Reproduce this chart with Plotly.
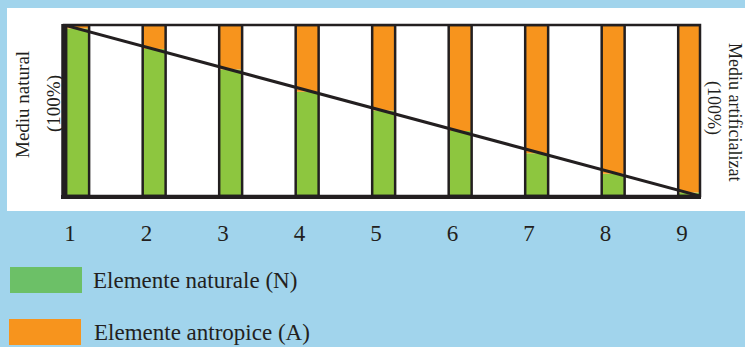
import plotly.graph_objects as go

# ---- data ----
stages = [1, 2, 3, 4, 5, 6, 7, 8, 9]
stage_labels = ["1", "2", "3", "4", "5", "6", "7", "8", "9"]
natural_pct = [98, 86, 74, 61, 50, 38, 25, 13, 2]        # Elemente naturale (N)
anthropic_pct = [2, 14, 26, 39, 50, 62, 75, 87, 98]      # Elemente antropice (A)
trend_share = [100, 0]                                    # from Mediu natural to Mediu artificializat

name_n = "Elemente naturale (N)"
name_a = "Elemente antropice (A)"

# ---- style ----
W, H = 745, 347
ML, MR, MT, MB = 64, 45, 25, 151
X_RANGE = [0.9216, 9.235]
BLUE = "rgb(161,212,236)"
GREEN_BAR = "#8dc63f"
GREEN_LEG = "#6cc067"
ORANGE = "#f7941d"
INK = "#231f20"
FONT = "Liberation Serif"

pw = W - ML - MR
ph = H - MT - MB


def px(p):
    return (p - ML) / pw


def py(y):
    return (H - MB - y) / ph


fig = go.Figure()
bar_kw = dict(width=0.30, offset=-0.05)
fig.add_trace(go.Bar(x=stages, y=natural_pct, name=name_n,
                     marker=dict(color=GREEN_BAR, line=dict(width=0)), **bar_kw))
fig.add_trace(go.Bar(x=stages, y=anthropic_pct, base=natural_pct, name=name_a,
                     marker=dict(color=ORANGE, line=dict(width=0)), **bar_kw))
totals = [n + a for n, a in zip(natural_pct, anthropic_pct)]
fig.add_trace(go.Bar(x=stages, y=totals, name="outline", hoverinfo="skip",
                     marker=dict(color="rgba(0,0,0,0)", line=dict(width=2.5, color=INK)),
                     **bar_kw))
fig.add_trace(go.Scatter(x=X_RANGE, y=trend_share, mode="lines",
                         line=dict(color=INK, width=3), cliponaxis=False,
                         hoverinfo="skip"))

shapes = [
    # white panel
    dict(type="rect", xref="paper", yref="paper", x0=px(7), x1=px(750),
         y0=py(211), y1=py(8), fillcolor="white", line=dict(width=0), layer="below"),
    # frame
    dict(type="rect", xref="paper", yref="paper", x0=0, x1=1, y0=0, y1=1,
         line=dict(color=INK, width=2.5), layer="above"),
    dict(type="line", xref="paper", yref="paper", x0=px(63.5), x1=px(63.5),
         y0=py(198), y1=py(24), line=dict(color=INK, width=4.5), layer="above"),
    dict(type="line", xref="paper", yref="paper", x0=px(61), x1=px(701),
         y0=py(197), y1=py(197), line=dict(color=INK, width=4), layer="above"),
    # legend swatches
    dict(type="rect", xref="paper", yref="paper", x0=px(10), x1=px(82),
         y0=py(293), y1=py(267), fillcolor=GREEN_LEG, line=dict(width=0)),
    dict(type="rect", xref="paper", yref="paper", x0=px(9), x1=px(81),
         y0=py(345), y1=py(319), fillcolor=ORANGE, line=dict(width=0)),
]

ann_font = dict(family=FONT, size=19, color=INK)
right_font = dict(family=FONT, size=18, color=INK)
leg_font = dict(family=FONT, size=23, color=INK)
annotations = [
    dict(text="Mediu natural", x=px(22), y=py(105), textangle=-90, font=ann_font),
    dict(text="(100%)", x=px(54), y=py(104), textangle=-90, font=ann_font),
    dict(text="(100%)", x=px(714), y=py(108), textangle=90, font=right_font),
    dict(text="Mediu artificializat", x=px(735), y=py(112), textangle=90, font=right_font),
    dict(text=name_n, x=px(91), y=py(280), xanchor="left", font=leg_font),
    dict(text=name_a, x=px(92), y=py(332), xanchor="left", font=leg_font),
]
for a in annotations:
    a.update(xref="paper", yref="paper", showarrow=False)
    a.setdefault("xanchor", "center")
    a.setdefault("yanchor", "middle")

fig.update_layout(
    width=W, height=H,
    margin=dict(l=ML, r=MR, t=MT, b=MB, pad=0),
    paper_bgcolor=BLUE, plot_bgcolor="white",
    barmode="overlay", showlegend=False,
    shapes=shapes, annotations=annotations,
    xaxis=dict(range=X_RANGE, tickmode="array", tickvals=stages, ticktext=stage_labels,
               showgrid=False, zeroline=False, showline=False,
               ticks="outside", ticklen=16, tickcolor="rgba(0,0,0,0)",
               tickfont=dict(family=FONT, size=23, color=INK), fixedrange=True),
    yaxis=dict(range=[0, 100], showgrid=False, zeroline=False, showline=False,
               showticklabels=False, ticks="", fixedrange=True),
)

fig.write_html("out.html",
               config={"displayModeBar": False, "staticPlot": True},
               post_script="document.body.style.margin='0';document.body.style.background='" + BLUE + "';")
